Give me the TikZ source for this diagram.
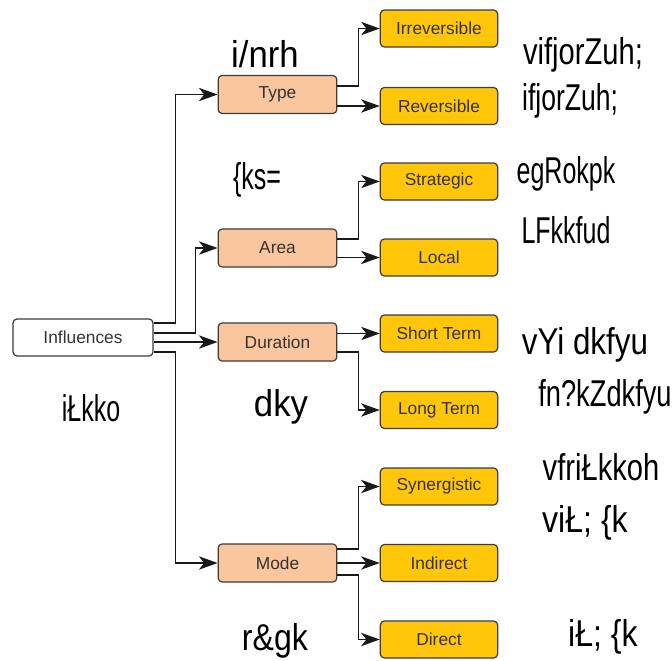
\documentclass[tikz,border=0pt]{standalone}
\usepackage{fontspec}
\setmainfont{Liberation Sans}
\newfontfamily\krfont{Liberation Sans}
\usetikzlibrary{arrows.meta}

\definecolor{peach}{RGB}{250,198,158}
\definecolor{gold}{RGB}{255,198,10}
\definecolor{edgegray}{RGB}{60,60,60}
\newcommand{\hl}[2][0.67]{{\krfont\fontsize{28}{30}\selectfont\scalebox{#1}[1]{#2}}}

\tikzset{
  rootbox/.style={draw=edgegray, fill=white, rounded corners=3pt, line width=0.9pt,
    minimum width=105pt, minimum height=27.75pt, font=\fontsize{13}{15}\selectfont, text=black!80},
  midbox/.style={rootbox, fill=peach, minimum width=89pt, minimum height=28.5pt},
  leafbox/.style={rootbox, fill=gold, minimum width=88pt},
  link/.style={draw=black!90, line width=1.1pt, -{Stealth[length=14pt,width=10pt,inset=4pt]}},
  hindi/.style={inner sep=0pt},
}

\begin{document}
\begin{tikzpicture}[x=0.75pt,y=0.75pt,yscale=-1,xscale=1]
\path[use as bounding box] (0,0) rectangle (672,661);

% root
\node[rootbox] (infl) at (83,337.5) {Influences};

% second level
\node[midbox] (type) at (277.5,94.5) {Type};
\node[midbox] (area) at (277.5,248) {Area};
\node[midbox] (dur) at (277.5,342) {Duration};
\node[midbox] (mode) at (277.5,563) {Mode};

% leaves
\node[leafbox] (irrev) at (439,28.5) {Irreversible};
\node[leafbox] (rev) at (439,106) {Reversible};
\node[leafbox] (strat) at (439,181.5) {Strategic};
\node[leafbox] (local) at (439,257.5) {Local};
\node[leafbox] (short) at (439,333.5) {Short Term};
\node[leafbox] (long) at (439,410) {Long Term};
\node[leafbox] (syn) at (439,486.5) {Synergistic};
\node[leafbox] (indir) at (439,563) {Indirect};
\node[leafbox] (dir) at (439,639.5) {Direct};

% root links (yshift runs downward here, yscale=-1)
\draw[link] ([yshift=-10.9pt]infl.east) -- ++(22,0) |- (type);
\draw[link] ([yshift=-3.4pt]infl.east) -- ++(42,0) |- (area);
\draw[link] (infl.east |- dur) -- (dur);
\draw[link] ([yshift=10.9pt]infl.east) -- ++(22,0) |- (mode);

% type links
\draw[link] ([yshift=-6.4pt]type.east) -- ++(21,0) |- (irrev);
\draw[link] (type.east |- rev) -- (rev);
% area links
\draw[link] ([yshift=-6.75pt]area.east) -- ++(21,0) |- (strat);
\draw[link] (area.east |- local) -- (local);
% duration links
\draw[link] (dur.east |- short) -- (short);
\draw[link] ([yshift=7.5pt]dur.east) -- ++(21,0) |- (long);
% mode links
\draw[link] ([yshift=-10.5pt]mode.east) -- ++(21,0) |- (syn);
\draw[link] (mode.east |- indir) -- (indir);
\draw[link] ([yshift=9pt]mode.east) -- ++(21,0) |- (dir);

% labels
\node[hindi] (ltype) at (265,54) {\hl[0.93]{i/nrh}};
\node[hindi] (lirrev) at (583,55) {\hl[0.78]{vifjorZuh;}};
\node[hindi] (lrev) at (570,101) {\hl[0.71]{ifjorZuh;}};
\node[hindi] (larea) at (257,180) {\hl{\{ks=}};
\node[hindi] (lstrat) at (566,174) {\hl{egRokpk}};
\node[hindi] (llocal) at (566,230) {\hl{LFkkfud}};
\node[hindi] (lshort) at (585,345) {\hl[0.84]{vYi dkfyu}};
\node[hindi] (llong) at (605,397) {\hl[0.73]{fn?kZdkfyu}};
\node[hindi] (ldur) at (281,407) {\hl[0.93]{dky}};
\node[hindi] (linfl) at (91,408) {\hl{iŁkko}};
\node[hindi] (lsyn) at (601,467) {\hl[0.78]{vfriŁkkoh}};
\node[hindi] (lindir) at (585,523) {\hl[0.86]{viŁ; \{k}};
\node[hindi] (ldir) at (603,637) {\hl[0.86]{iŁ; \{k}};
\node[hindi] (lmode) at (275,641) {\hl[0.86]{r\&gk}};

\end{tikzpicture}
\end{document}
